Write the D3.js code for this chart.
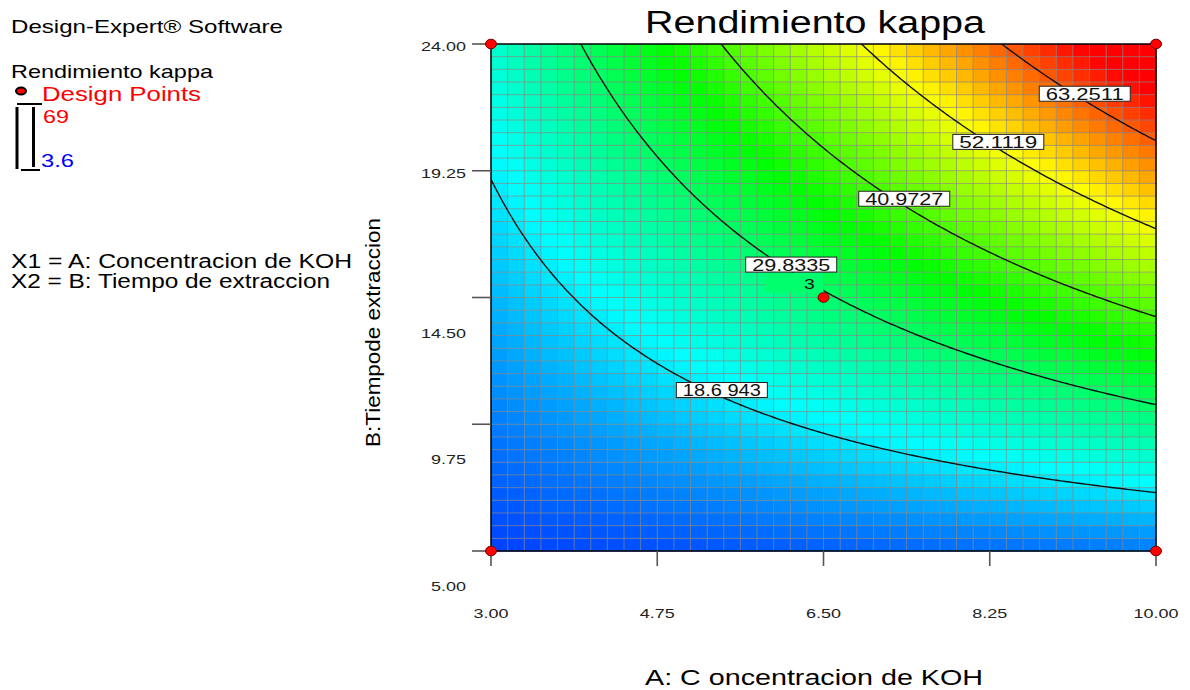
<!DOCTYPE html>
<html>
<head>
<meta charset="utf-8">
<script src="https://cdn.jsdelivr.net/npm/d3@7"></script>
<style>
  body { margin: 0; background: #fff; }
  text { font-family: "Liberation Sans", Arial, sans-serif; }
</style>
</head>
<body>
<svg width="1190" height="690"></svg>
<script>
// axis ticks
var ticksA = [3.00, 4.75, 6.50, 8.25, 10.00];
var ticksB = [24.00, 19.25, 14.50, 9.75, 5.00];

// fitted 2FI model in coded units: Intercept, A, B, AB
var coefs = [29.3, 14.1, 19.8, 12.3];

// contour levels and their printed labels
var levels = [18.6943, 29.8335, 40.9727, 52.1119, 63.2511];
var levelText = ["18.6 943", "29.8335", "40.9727", "52.1119", "63.2511"];
var labelA = [5.43, 6.16, 7.35, 8.34, 9.25];

// design points
var designA = [3, 10, 3, 10, 6.5];
var designB = [5, 5, 24, 24, 14.5];
var designRuns = [1, 1, 1, 1, 3];

var respMin = 3.6, respMax = 69;

var svg = d3.select("svg");

var x = d3.scaleLinear().domain([3, 10]).range([491, 1156]);
var y = d3.scaleLinear().domain([5, 24]).range([551, 44]);
var codeA = d3.scaleLinear().domain([3, 10]).range([-1, 1]);
var codeB = d3.scaleLinear().domain([5, 24]).range([-1, 1]);

var color = d3.scaleLinear()
    .domain(d3.range(5).map(function(i) { return respMin + i * (respMax - respMin) / 4; }))
    .range(["#0000ff", "#00ffff", "#00ff00", "#ffff00", "#ff0000"])
    .clamp(true);

function predict(a, b) {
    var p = codeA(a), q = codeB(b);
    return coefs[0] + coefs[1] * p + coefs[2] * q + coefs[3] * p * q;
}
// B on the contour for a given A
function solveB(level, a) {
    var p = codeA(a);
    return codeB.invert((level - coefs[0] - coefs[1] * p) / (coefs[2] + coefs[3] * p));
}

function fit(t, w) {
    t.attr("textLength", w).attr("lengthAdjust", "spacingAndGlyphs");
}
function widen(t, k) {
    t.each(function() {
        var n = this.getComputedTextLength();
        d3.select(this).attr("textLength", n * k).attr("lengthAdjust", "spacingAndGlyphs");
    });
}

svg.append("defs").append("clipPath").attr("id", "plotclip")
  .append("rect")
    .attr("x", x(3)).attr("y", y(24))
    .attr("width", x(10) - x(3)).attr("height", y(5) - y(24));

// colour cells
var nCells = 40;
var cellA = d3.scaleLinear().domain([0, nCells]).range([3, 10]);
var cellB = d3.scaleLinear().domain([0, nCells]).range([5, 24]);
var cells = [];
d3.range(nCells).forEach(function(i) {
    d3.range(nCells).forEach(function(j) { cells.push([i, j]); });
});

var plot = svg.append("g");

plot.append("g")
  .selectAll("rect")
  .data(cells)
  .enter().append("rect")
    .attr("x", function(d) { return x(cellA(d[0])); })
    .attr("y", function(d) { return y(cellB(d[1] + 1)); })
    .attr("width", function(d) { return x(cellA(d[0] + 1)) - x(cellA(d[0])) + 0.5; })
    .attr("height", function(d) { return y(cellB(d[1])) - y(cellB(d[1] + 1)) + 0.5; })
    .attr("fill", function(d) {
        return color(predict(cellA(d[0] + 0.5), cellB(d[1] + 0.5)));
    });

// grid lines
var grid = plot.append("g").attr("stroke", "#888").attr("stroke-opacity", 0.7).attr("stroke-width", 1);
grid.selectAll("line.v")
  .data(d3.range(1, nCells))
  .enter().append("line")
    .attr("class", "v")
    .attr("x1", function(i) { return x(cellA(i)); })
    .attr("x2", function(i) { return x(cellA(i)); })
    .attr("y1", y(5)).attr("y2", y(24));
grid.selectAll("line.h")
  .data(d3.range(1, nCells))
  .enter().append("line")
    .attr("class", "h")
    .attr("y1", function(i) { return y(cellB(i)); })
    .attr("y2", function(i) { return y(cellB(i)); })
    .attr("x1", x(3)).attr("x2", x(10));

// contours
var sampleA = d3.range(0, 301).map(function(k) { return 3 + 7 * k / 300; });
var line = d3.line()
    .x(function(d) { return x(d[0]); })
    .y(function(d) { return y(d[1]); });

plot.append("g")
    .attr("clip-path", "url(#plotclip)")
  .selectAll("path")
  .data(levels)
  .enter().append("path")
    .attr("fill", "none")
    .attr("stroke", "#111")
    .attr("stroke-width", 1.4)
    .attr("d", function(L) {
        return line(sampleA.map(function(a) { return [a, solveB(L, a)]; }));
    });

// centre point run count, blanking the line behind it
var cA = designA[4], cB = designB[4];
plot.append("rect")
    .attr("x", x(cA) - 58).attr("y", y(cB) - 25)
    .attr("width", 58).attr("height", 20)
    .attr("fill", color(predict(cA - 0.2, cB + 0.4)));
var runT = plot.append("text")
    .attr("x", x(cA) - 14).attr("y", y(cB) - 9)
    .attr("text-anchor", "middle")
    .attr("font-size", 15)
    .attr("fill", "#111")
    .text(designRuns[4]);
widen(runT, 1.3);

// contour labels
var labels = plot.append("g")
  .selectAll("g")
  .data(levels)
  .enter().append("g")
    .attr("transform", function(L, i) {
        return "translate(" + x(labelA[i]) + "," + (y(solveB(L, labelA[i])) - 7) + ")";
    });
labels.append("rect")
    .attr("x", -45.5).attr("y", -7.5)
    .attr("width", 91).attr("height", 15)
    .attr("fill", "#fff")
    .attr("stroke", "#222")
    .attr("stroke-width", 1);
labels.append("text")
    .attr("text-anchor", "middle")
    .attr("y", 6.5)
    .attr("font-size", 16)
    .attr("fill", "#111")
    .text(function(L, i) { return levelText[i]; })
    .call(fit, 78);

// border
svg.append("rect")
    .attr("x", x(3)).attr("y", y(24))
    .attr("width", x(10) - x(3)).attr("height", y(5) - y(24))
    .attr("fill", "none")
    .attr("stroke", "#000")
    .attr("stroke-width", 1.5);

// y ticks
var yax = svg.append("g");
yax.selectAll("line")
  .data(ticksB)
  .enter().append("line")
    .attr("x1", x(3) - 19).attr("x2", x(3))
    .attr("y1", function(d) { return y(d); })
    .attr("y2", function(d) { return y(d); })
    .attr("stroke", "#555").attr("stroke-width", 1.6);
yax.selectAll("text")
  .data(ticksB)
  .enter().append("text")
    .attr("x", x(3) - 25)
    .attr("y", function(d, i) { return y(d) + (i < 2 ? 7 : 40); })
    .attr("text-anchor", "end")
    .attr("font-size", 13.5)
    .attr("fill", "#222")
    .text(function(d) { return d3.format(".2f")(d); })
    .call(widen, 1.33);

// x ticks
var xax = svg.append("g");
xax.selectAll("line")
  .data(ticksA)
  .enter().append("line")
    .attr("x1", function(d) { return x(d); })
    .attr("x2", function(d) { return x(d); })
    .attr("y1", y(5)).attr("y2", y(5) + 15)
    .attr("stroke", "#555").attr("stroke-width", 1.6);
xax.selectAll("text")
  .data(ticksA)
  .enter().append("text")
    .attr("x", function(d) { return x(d); })
    .attr("y", 618)
    .attr("text-anchor", "middle")
    .attr("font-size", 13.5)
    .attr("fill", "#222")
    .text(function(d) { return d3.format(".2f")(d); })
    .call(widen, 1.33);

// design points
svg.append("g")
  .selectAll("ellipse")
  .data(designA)
  .enter().append("ellipse")
    .attr("cx", function(d) { return x(d); })
    .attr("cy", function(d, i) { return y(designB[i]); })
    .attr("rx", 5.5).attr("ry", 4.8)
    .attr("fill", "#ff0000")
    .attr("stroke", "#700")
    .attr("stroke-width", 1);

// titles
svg.append("text")
    .attr("x", 815).attr("y", 33)
    .attr("text-anchor", "middle")
    .attr("font-size", 31)
    .attr("fill", "#000")
    .text("Rendimiento kappa")
    .call(fit, 340);

svg.append("text")
    .attr("x", 814).attr("y", 685)
    .attr("text-anchor", "middle")
    .attr("font-size", 22)
    .attr("fill", "#000")
    .text("A: C oncentracion de KOH")
    .call(fit, 338);

svg.append("text")
    .attr("transform", "translate(380,332.5) rotate(-90)")
    .attr("text-anchor", "middle")
    .attr("font-size", 20.5)
    .attr("fill", "#000")
    .text("B:Tiempode extraccion")
    .call(fit, 229);

// left legend
var leg = svg.append("g");
leg.append("text").attr("x", 11).attr("y", 33).attr("font-size", 18.5)
    .text("Design-Expert® Software").call(fit, 272);
leg.append("text").attr("x", 11).attr("y", 78).attr("font-size", 18.5)
    .text("Rendimiento kappa").call(fit, 202);
leg.append("ellipse")
    .attr("cx", 21).attr("cy", 91).attr("rx", 5).attr("ry", 3.5)
    .attr("fill", "#ff0000").attr("stroke", "#000").attr("stroke-width", 2);
leg.append("text").attr("x", 42).attr("y", 101).attr("font-size", 19.5)
    .attr("fill", "#ff0000").text("Design Points").call(fit, 159);
leg.append("line").attr("x1", 17).attr("x2", 42).attr("y1", 104).attr("y2", 104)
    .attr("stroke", "#000").attr("stroke-width", 2);
leg.append("line").attr("x1", 17).attr("x2", 17).attr("y1", 107).attr("y2", 169)
    .attr("stroke", "#000").attr("stroke-width", 3);
leg.append("line").attr("x1", 33.5).attr("x2", 33.5).attr("y1", 107).attr("y2", 167)
    .attr("stroke", "#000").attr("stroke-width", 3);
leg.append("line").attr("x1", 21).attr("x2", 40).attr("y1", 170).attr("y2", 170)
    .attr("stroke", "#000").attr("stroke-width", 2);
leg.append("text").attr("x", 43).attr("y", 123).attr("font-size", 19)
    .attr("fill", "#ff0000").text(respMax).call(fit, 26);
leg.append("text").attr("x", 41).attr("y", 167).attr("font-size", 19)
    .attr("fill", "#0000ff").text(respMin).call(fit, 33);
leg.append("text").attr("x", 11).attr("y", 268).attr("font-size", 20)
    .text("X1 = A: Concentracion de KOH").call(fit, 341);
leg.append("text").attr("x", 11).attr("y", 288).attr("font-size", 20)
    .text("X2 = B: Tiempo de extraccion").call(fit, 319);
</script>
</body>
</html>
